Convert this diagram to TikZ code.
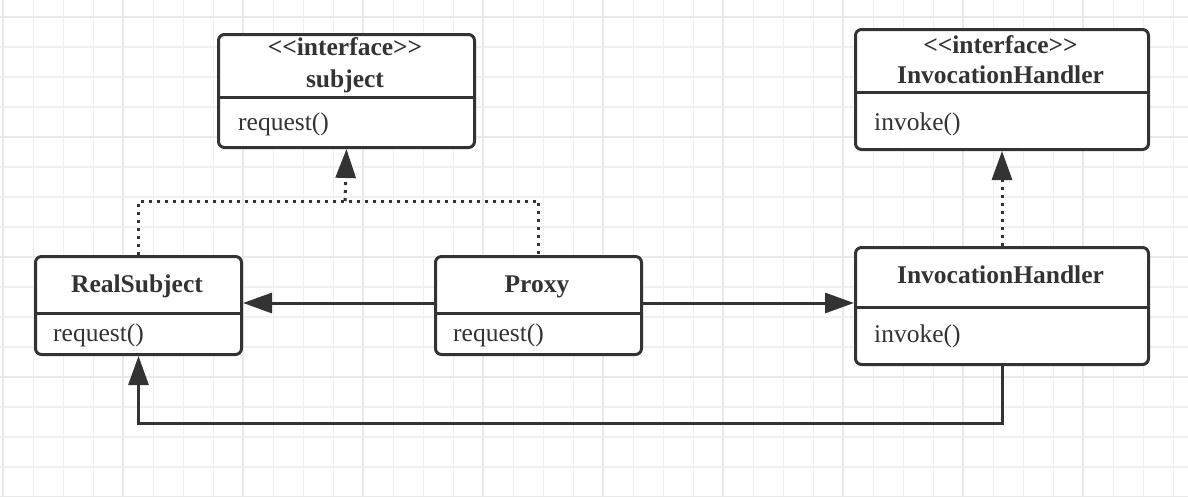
\documentclass[tikz,border=0pt]{standalone}
\usepackage{fontspec}
\setmainfont{Liberation Serif}[Ligatures=TeXOff]
\usetikzlibrary{arrows.meta}
\definecolor{ink}{HTML}{333333}
\definecolor{gridthin}{HTML}{F0F0F0}
\definecolor{gridthick}{HTML}{E9E9E9}
\tikzset{
  umlbox/.style={draw=ink, fill=white, line width=3pt, rounded corners=6pt, inner sep=0pt, anchor=north west},
  divider/.style={draw=ink, line width=3pt},
  titletext/.style={font=\fontsize{25.5}{30}\selectfont\bfseries, text=ink, anchor=base, inner sep=0pt},
  methodtext/.style={font=\fontsize{25.5}{30}\selectfont, text=ink, anchor=base west, inner sep=0pt},
  solidconn/.style={draw=ink, line width=3pt, -{Triangle[length=29pt,width=20pt]}},
  dotconn/.style={draw=ink, line width=3pt, dash pattern=on 3pt off 5pt},
  dotarrow/.style={dotconn, -{Triangle[length=29pt,width=20pt]}},
}
\begin{document}
\begin{tikzpicture}[x=1pt,y=-1pt]
\useasboundingbox (0,0) rectangle (1188,496);
\fill[white] (0,0) rectangle (1188,496);
% grid
\foreach \i in {0,...,39} {
  \pgfmathsetmacro{\xx}{3.3+30*\i}
  \draw[gridthin, line width=1.6pt] (\xx,0) -- (\xx,496);
}
\foreach \i in {0,...,16} {
  \pgfmathsetmacro{\yy}{16.7+30*\i}
  \draw[gridthin, line width=1.6pt] (0,\yy) -- (1188,\yy);
}
\foreach \i in {0,...,9} {
  \pgfmathsetmacro{\xx}{3.3+120*\i}
  \draw[gridthick, line width=2pt] (\xx,0) -- (\xx,496);
}
\foreach \i in {0,...,4} {
  \pgfmathsetmacro{\yy}{16.7+120*\i}
  \draw[gridthick, line width=2pt] (0,\yy) -- (1188,\yy);
}

% boxes
\node[umlbox, minimum width=256pt, minimum height=113pt] (subject) at (217,33) {};
\draw[divider] (subject.west |- 0,97) -- (subject.east |- 0,97);
\node[titletext] (subjectst) at (345,55) {<<interface>>};
\node[titletext] (subjectname) at (345,87) {subject};
\node[methodtext] (subjectm) at (238,130) {request()};

\node[umlbox, minimum width=293pt, minimum height=120pt] (ihi) at (854,28) {};
\draw[divider] (ihi.west |- 0,92) -- (ihi.east |- 0,92);
\node[titletext] (ihist) at (1000.5,53) {<<interface>>};
\node[titletext] (ihiname) at (1000.5,83) {InvocationHandler};
\node[methodtext] (ihim) at (874,130) {invoke()};

\node[umlbox, minimum width=206pt, minimum height=98pt] (real) at (34,255) {};
\draw[divider] (real.west |- 0,313) -- (real.east |- 0,313);
\node[titletext] (realname) at (137,292) {RealSubject};
\node[methodtext] (realm) at (53,341) {request()};

\node[umlbox, minimum width=206pt, minimum height=98pt] (proxy) at (434,255) {};
\draw[divider] (proxy.west |- 0,313) -- (proxy.east |- 0,313);
\node[titletext] (proxyname) at (537,292) {Proxy};
\node[methodtext] (proxym) at (453,341) {request()};

\node[umlbox, minimum width=293pt, minimum height=117pt] (ih) at (854,246) {};
\draw[divider] (ih.west |- 0,307) -- (ih.east |- 0,307);
\node[titletext] (ihname) at (1000.5,283) {InvocationHandler};
\node[methodtext] (ihm) at (874,342) {invoke()};

% connectors
\coordinate (jn) at (345,201);
\coordinate (rb) at (0,423);
\draw[dotconn] (real.north) |- (jn) -| (proxy.north);
\draw[dotarrow] (jn) -- (subject.south);
\draw[dotarrow] (ih.north) -- (ihi.south);
\draw[solidconn] (proxy.west |- 0,303) -- (real.east |- 0,303);
\draw[solidconn] (proxy.east |- 0,303) -- (ih.west |- 0,303);
\draw[solidconn] (ih.south) |- (real.south |- rb) -- (real.south);
\end{tikzpicture}
\end{document}
